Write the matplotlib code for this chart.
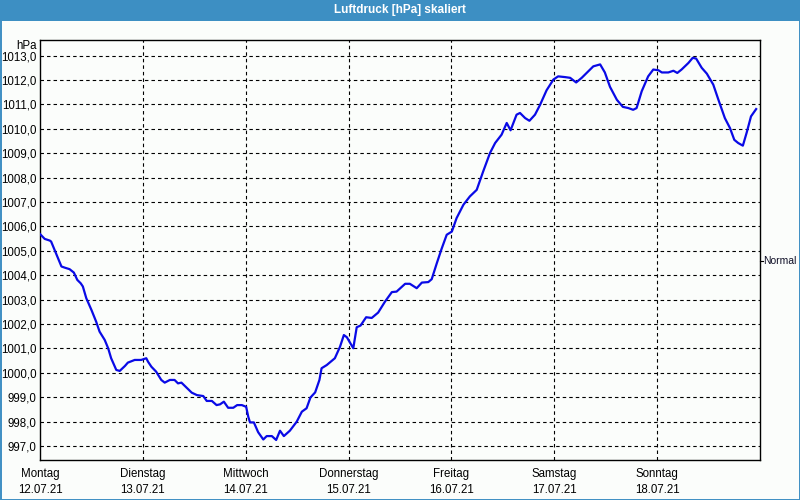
import matplotlib
matplotlib.use("Agg")
import matplotlib.pyplot as plt
from matplotlib.patches import Rectangle

# ---- data ----
title = "Luftdruck [hPa] skaliert"
unit_label = "hPa"
normal_label = "Normal"
normal_level = 1004.6

day_names = ["Montag", "Dienstag", "Mittwoch", "Donnerstag", "Freitag", "Samstag", "Sonntag"]
day_dates = ["12.07.21", "13.07.21", "14.07.21", "15.07.21", "16.07.21", "17.07.21", "18.07.21"]

hours = [0, 1.1, 2.3, 2.6, 3.4, 4.2, 5.0, 5.8, 6.9, 7.9, 8.7, 9.5, 10.0, 10.8, 12.0, 13.1, 13.9,
         15.1, 15.9, 16.6, 17.8, 18.6, 19.8, 20.5, 22.1, 23.6, 24.8, 25.2, 26.0, 27.1, 28.3, 29.1,
         30.3, 31.4, 32.2, 33.0, 35.4, 36.6, 38.1, 38.9, 40.1, 41.2, 42.0, 42.9, 43.9, 45.1, 46.0,
         47.1, 48.1, 48.6, 49.0, 49.9, 50.9, 52.1, 52.9, 54.1, 55.1, 56.0, 56.9, 58.3, 59.9, 61.1,
         62.2, 63.1, 64.2, 65.2, 65.7, 66.9, 68.8, 70.0, 70.9, 71.6, 73.1, 73.9, 74.8, 76.1, 77.4,
         78.9, 80.5, 82.1, 83.2, 85.2, 86.3, 87.9, 89.1, 90.6, 91.4, 92.6, 93.7, 94.9, 96.1, 97.2,
         98.8, 100.3, 101.9, 103.4, 105.0, 106.2, 107.7, 108.9, 109.8, 111.2, 112.0, 113.2, 114.2,
         115.5, 116.7, 118.2, 119.8, 120.9, 122.5, 123.7, 125.1, 126.4, 129.1, 130.7, 131.8, 133.0,
         134.6, 136.0, 137.3, 138.4, 139.2, 140.4, 141.9, 143.1, 144.3, 145.1, 146.6, 147.8, 148.7,
         149.7, 151.3, 152.3, 153.1, 154.4, 155.6, 157.1, 158.3, 159.8, 161.0, 162.0, 162.9, 164.0,
         164.9, 165.9, 167.1]

pressure = [1005.69, 1005.49, 1005.42, 1005.38, 1005.04, 1004.70, 1004.36, 1004.31, 1004.25, 1004.11,
            1003.81, 1003.67, 1003.54, 1003.06, 1002.58, 1002.10, 1001.69, 1001.35, 1001.01, 1000.60,
            1000.12, 1000.08, 1000.28, 1000.42, 1000.53, 1000.53, 1000.60, 1000.46, 1000.25, 1000.05,
            999.71, 999.60, 999.71, 999.71, 999.57, 999.60, 999.19, 999.09, 999.05, 998.85, 998.85,
            998.68, 998.71, 998.82, 998.57, 998.57, 998.68, 998.68, 998.61, 998.20, 997.97, 997.97,
            997.57, 997.27, 997.41, 997.41, 997.25, 997.63, 997.41, 997.63, 998.00, 998.41, 998.55,
            998.99, 999.20, 999.71, 1000.19, 1000.32, 1000.60, 1001.07, 1001.55, 1001.46, 1001.01,
            1001.87, 1001.94, 1002.28, 1002.25, 1002.47, 1002.92, 1003.31, 1003.33, 1003.65, 1003.65,
            1003.47, 1003.70, 1003.72, 1003.84, 1004.50, 1005.08, 1005.66, 1005.79, 1006.34, 1006.89,
            1007.23, 1007.50, 1008.25, 1009.01, 1009.42, 1009.76, 1010.24, 1009.94, 1010.58, 1010.65,
            1010.44, 1010.33, 1010.58, 1010.99, 1011.58, 1012.02, 1012.15, 1012.12, 1012.09, 1011.90,
            1012.09, 1012.56, 1012.64, 1012.31, 1011.72, 1011.19, 1010.90, 1010.85, 1010.78, 1010.85,
            1011.54, 1012.15, 1012.43, 1012.40, 1012.31, 1012.31, 1012.38, 1012.29, 1012.43, 1012.70,
            1012.91, 1012.88, 1012.50, 1012.26, 1011.81, 1011.19, 1010.44, 1010.03, 1009.55, 1009.42,
            1009.31, 1009.85, 1010.51, 1010.81]

y_ticks = list(range(997, 1014))
y_tick_labels = [f"{v:.1f}".replace(".", ",") for v in y_ticks]
day_hours = [24 * i for i in range(7)]

# ---- styling ----
plt.rcParams['font.family'] = ['Liberation Sans', 'DejaVu Sans']
plt.rcParams['lines.scale_dashes'] = False
bg = '#fbfdfb'
bar_blue = '#3d8fc3'

fig = plt.figure(figsize=(8, 5), dpi=100, facecolor=bg)

# title bar and border
fig.patches.append(Rectangle((0, 1 - 21 / 500), 1, 21 / 500, transform=fig.transFigure,
                             facecolor=bar_blue, edgecolor='none', zorder=0))
fig.patches.append(Rectangle((0.5 / 800, 0.5 / 500), 1 - 1 / 800, 1 - 1 / 500, transform=fig.transFigure,
                             facecolor='none', edgecolor=bar_blue, linewidth=1.4, zorder=0))
fig.text(0.5, 1 - 10.5 / 500, title, color='white', fontweight='bold', fontsize=8.5,
         ha='center', va='center')

ax = fig.add_axes([40 / 800, 40 / 500, 720 / 800, 420 / 500])
ax.set_facecolor(bg)
ax.plot(hours, pressure, color='#0a0ae6', linewidth=1.6, zorder=3)

ax.set_xlim(0, 168)
ax.set_ylim(996.43, 1013.64)

ax.set_yticks(y_ticks)
ax.set_yticklabels(y_tick_labels, fontsize=8.3)
ax.tick_params(axis='y', length=0, pad=2.5)
ax.set_xticks(day_hours)
ax.set_xticklabels([])
ax.tick_params(axis='x', length=0)

dash = (0, (2.5, 2.2))
for v in y_ticks:
    ax.axhline(v, color='black', linewidth=0.8, linestyle=dash, zorder=1)
for h in day_hours[1:]:
    ax.axvline(h, color='black', linewidth=0.8, linestyle=dash, zorder=1)

for s in ax.spines.values():
    s.set_linewidth(1.0)
    s.set_color('black')

xt = ax.get_xaxis_transform()
for h, n, d in zip(day_hours, day_names, day_dates):
    ax.text(h, -14 / 420, n, transform=xt, ha='center', va='center', fontsize=8.3)
    ax.text(h, -30 / 420, d, transform=xt, ha='center', va='center', fontsize=8.3)

# unit label
ax.text(-3 / 720, 1 - 6 / 420, unit_label, transform=ax.transAxes, ha='right', va='center', fontsize=8.3)

# normal marker on right
yt = ax.get_yaxis_transform()
ax.plot([1.0, 1.0 + 3 / 720], [normal_level, normal_level], transform=yt, color='black',
        linewidth=0.8, clip_on=False)
ax.text(1.0 + 3 / 720, normal_level, normal_label, transform=yt, ha='left', va='center',
        fontsize=7.5, color='#101028')

fig.savefig('out.png', dpi=100, facecolor=bg)
